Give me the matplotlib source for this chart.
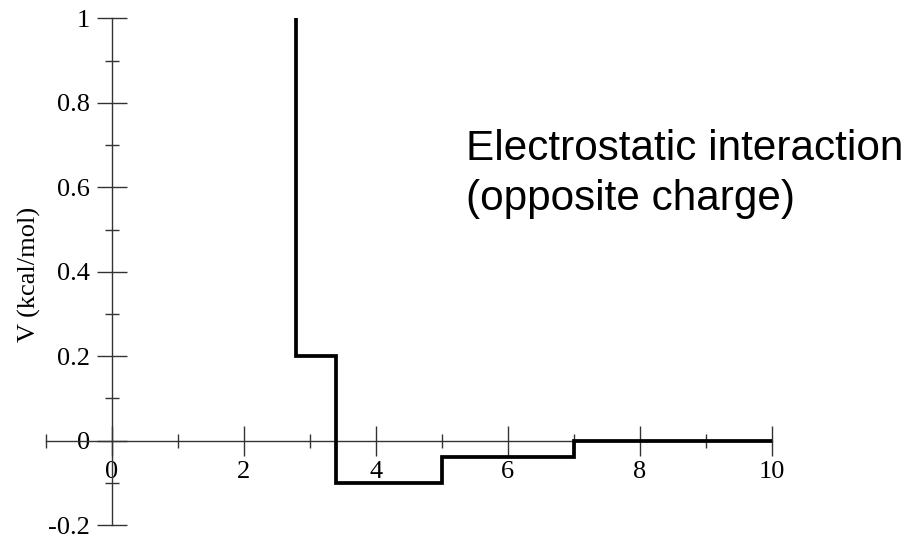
import numpy as np
import matplotlib.pyplot as plt
from matplotlib.ticker import MultipleLocator

# step potential: V holds each level from its edge to the next edge
edges = [2.8, 3.4, 5.0, 7.0, 10.0]
levels = [1.0, 0.2, -0.1, -0.04, 0.0]

x_ticks = [0, 2, 4, 6, 8, 10]
y_ticks = [-0.2, 0, 0.2, 0.4, 0.6, 0.8, 1]
y_tick_labels = ["-0.2", "0", "0.2", "0.4", "0.6", "0.8", "1"]

serif = ["Liberation Serif", "DejaVu Serif"]
axis_col = "#333333"

fig = plt.figure(figsize=(9.08, 5.36), dpi=100)
ax = fig.add_axes([0.0503, 0.0205, 0.7996, 0.945])

# step path: vertical drop at each edge, flat run to the next
xs = [edges[0]]
ys = [levels[0]]
for i in range(len(levels) - 1):
    xs += [edges[i], edges[i + 1]]
    ys += [levels[i + 1], levels[i + 1]]
ax.plot(xs, ys, color="black", lw=2.7, solid_joinstyle="miter",
        solid_capstyle="butt", zorder=3)

ax.set_xlim(-1, 10)
ax.set_ylim(-0.2, 1)

for s in ["top", "right"]:
    ax.spines[s].set_visible(False)
ax.spines["left"].set_position(("data", 0))
ax.spines["bottom"].set_position(("data", 0))
for s in ["left", "bottom"]:
    ax.spines[s].set_linewidth(1.0)
    ax.spines[s].set_color(axis_col)

ax.set_xticks(x_ticks)
ax.set_yticks(y_ticks)
ax.set_yticklabels(y_tick_labels)
ax.xaxis.set_minor_locator(MultipleLocator(1))
ax.yaxis.set_minor_locator(MultipleLocator(0.1))
ax.tick_params(which="major", direction="inout", length=21.5, width=1.0,
               color=axis_col, labelsize=19)
ax.tick_params(which="minor", direction="inout", length=10.5, width=1.0,
               color=axis_col)
ax.tick_params(axis="x", which="major", pad=4)
ax.tick_params(axis="y", which="major", pad=5)
for lab in ax.get_xticklabels() + ax.get_yticklabels():
    lab.set_family(serif)

fig.text(29 / 908, 1 - 274 / 536, "V (kcal/mol)", rotation=90, ha="center",
         va="center", fontsize=19, family=serif)

note_lines = ["Electrostatic interaction", "(opposite charge)"]
note_baselines = [160, 210]
for line, base in zip(note_lines, note_baselines):
    fig.text(466 / 908, 1 - base / 536, line, ha="left", va="baseline",
             fontsize=30.4, family="Liberation Sans")

fig.savefig("out.png", dpi=100)
